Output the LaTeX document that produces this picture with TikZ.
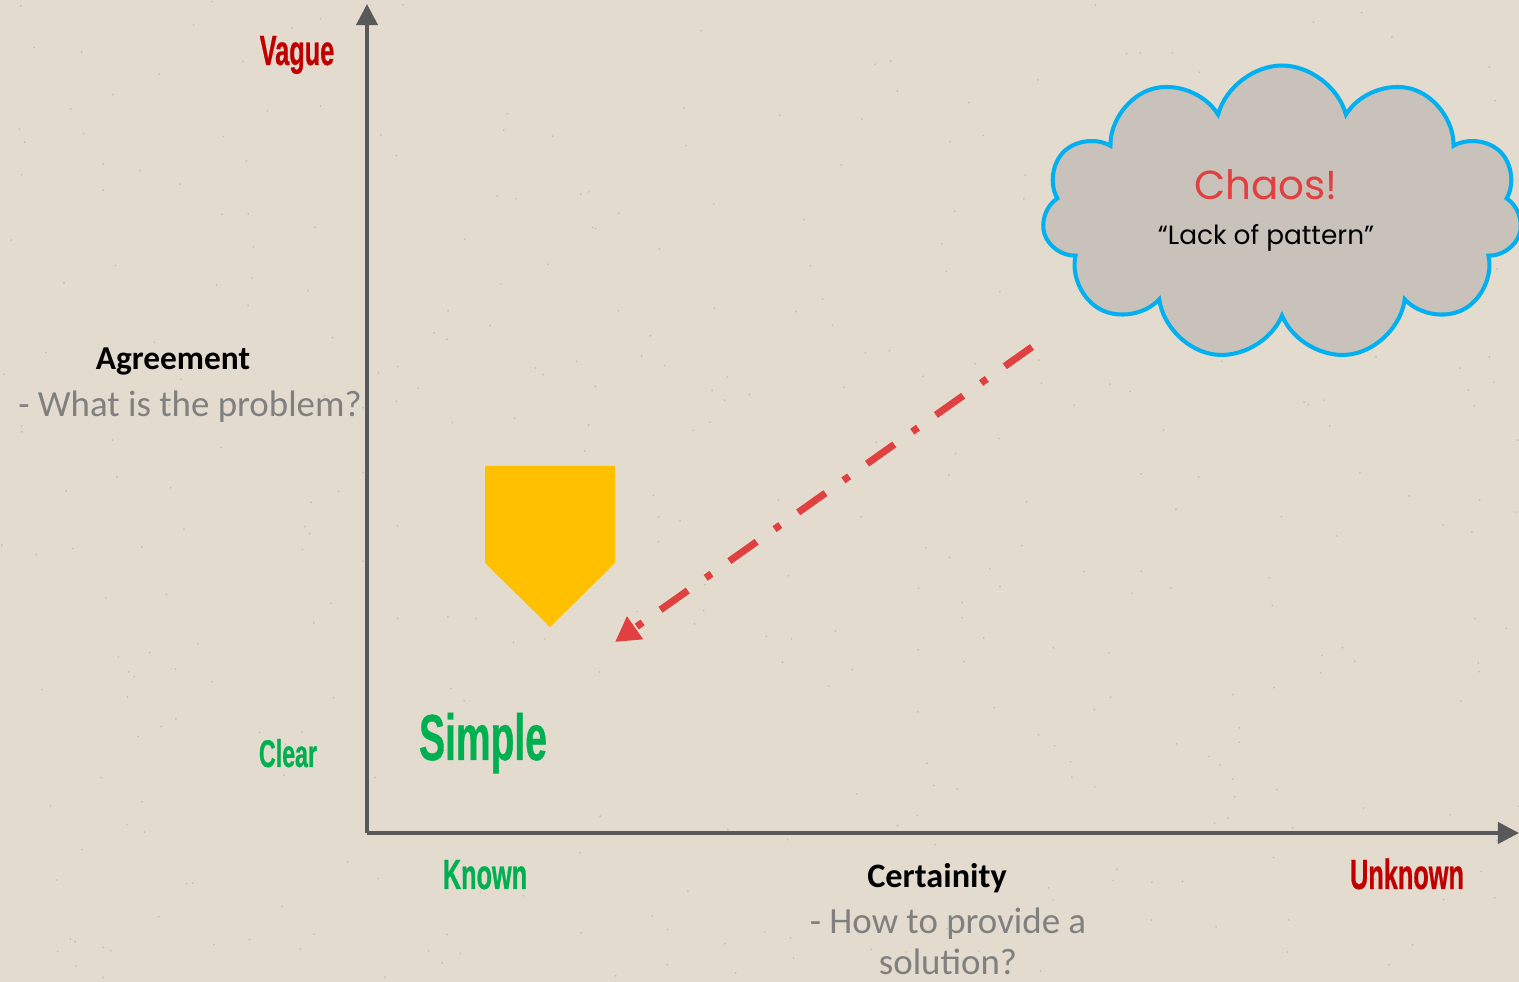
\documentclass[tikz,border=0pt]{standalone}
\usepackage{fontspec}
\setmainfont{Carlito}
\newfontfamily\agency[FakeStretch=0.6, FakeBold=0.6]{Liberation Sans Bold}
\newfontfamily\handfont{Poppins}
\usepackage{xcolor}
\usepackage{tikz}
\usetikzlibrary{arrows.meta,positioning,shapes.symbols}

\definecolor{paper}{RGB}{227,219,206}
\definecolor{speck}{RGB}{170,160,148}
\definecolor{axisgrey}{RGB}{89,89,89}
\definecolor{vaguered}{RGB}{192,0,0}
\definecolor{cleargreen}{RGB}{0,176,80}
\definecolor{subgrey}{RGB}{128,128,128}
\definecolor{cloudblue}{RGB}{0,176,240}
\definecolor{cloudgrey}{RGB}{200,194,186}
\definecolor{chaosred}{RGB}{224,64,64}
\definecolor{homeyellow}{RGB}{255,192,0}

\begin{document}
\begin{tikzpicture}[x=0.02cm, y=-0.02cm,
    axis/.style={draw=axisgrey, line width=2.2pt, -{Triangle[length=12pt, width=12pt]}},
    agencytxt/.style={inner sep=0pt, anchor=base, font=\agency\fontsize{24}{28}\selectfont},
    headtxt/.style={inner sep=0pt, anchor=base, font=\bfseries\fontsize{19}{22}\selectfont},
    subtxt/.style={inner sep=0pt, anchor=base, text=subgrey, align=center, font=\fontsize{21}{23}\selectfont},
    chaosarrow/.style={draw=chaosred, line width=4pt, dash pattern=on 19pt off 12.5pt on 4pt off 12.5pt, -{Triangle[length=14pt, width=15pt]}}]
    % paper
    \fill[paper] (0,0) rectangle (1519,982);
    \useasboundingbox (0,0) rectangle (1519,982);
    \pgfmathsetseed{42}
    \foreach \i in {1,...,400}
        \fill[speck, opacity=0.45] (1519*rnd,982*rnd) circle (0.6pt);

    % axes
    \coordinate (origin) at (367,833);
    \coordinate (ytop) at (367,4);
    \coordinate (xend) at (1519,833);
    \draw[axis] (origin) -- (ytop);
    \draw[axis] (origin) -- (xend);

    % vertical axis labels
    \node[agencytxt, text=vaguered] (vague) at (297,65) {Vague};
    \node[headtxt] (agree) at (173,370) {Agreement};
    \node[subtxt] (agreesub) at (190,417) {- What is the problem?};
    \node[agencytxt, text=cleargreen, font=\agency\fontsize{22}{26}\selectfont] (clear) at (288,767) {Clear};

    % horizontal axis labels
    \node[agencytxt, text=cleargreen] (known) at (485,889) {Known};
    \node[headtxt, font=\bfseries\fontsize{19.5}{23}\selectfont] (certain) at (937,888) {Certainity};
    \node[subtxt] (certainsub) at (948,974) {- How to provide a\\solution?};
    \node[agencytxt, text=vaguered] (unknown) at (1407,889) {Unknown};

    % domain
    \node[agencytxt, text=cleargreen, font=\agency\fontsize{37}{42}\selectfont] (simple) at (483,760) {Simple};
    \fill[homeyellow] (485,466) -- (615,466) -- (615,563) -- (550,627) -- (485,563) -- cycle;

    % chaos cloud
    \node[cloud, cloud puffs=11, aspect=1.6, draw=cloudblue, fill=cloudgrey, line width=2.3pt,
          minimum width=9.6cm, minimum height=5.9cm] (cloud) at (1282,213) {};
    \node[inner sep=0pt, anchor=base, text=chaosred, font=\handfont\fontsize{23}{27}\selectfont] (chaos) at (1266,200) {Chaos!};
    \node[inner sep=0pt, anchor=base, font=\handfont\fontsize{15}{18}\selectfont] (lack) at (1266,245) {“Lack of pattern”};

    \coordinate (arrstart) at (1032,347);
    \coordinate (arrend) at (615,642);
    \draw[chaosarrow] (arrstart) -- (arrend);
\end{tikzpicture}
\end{document}
